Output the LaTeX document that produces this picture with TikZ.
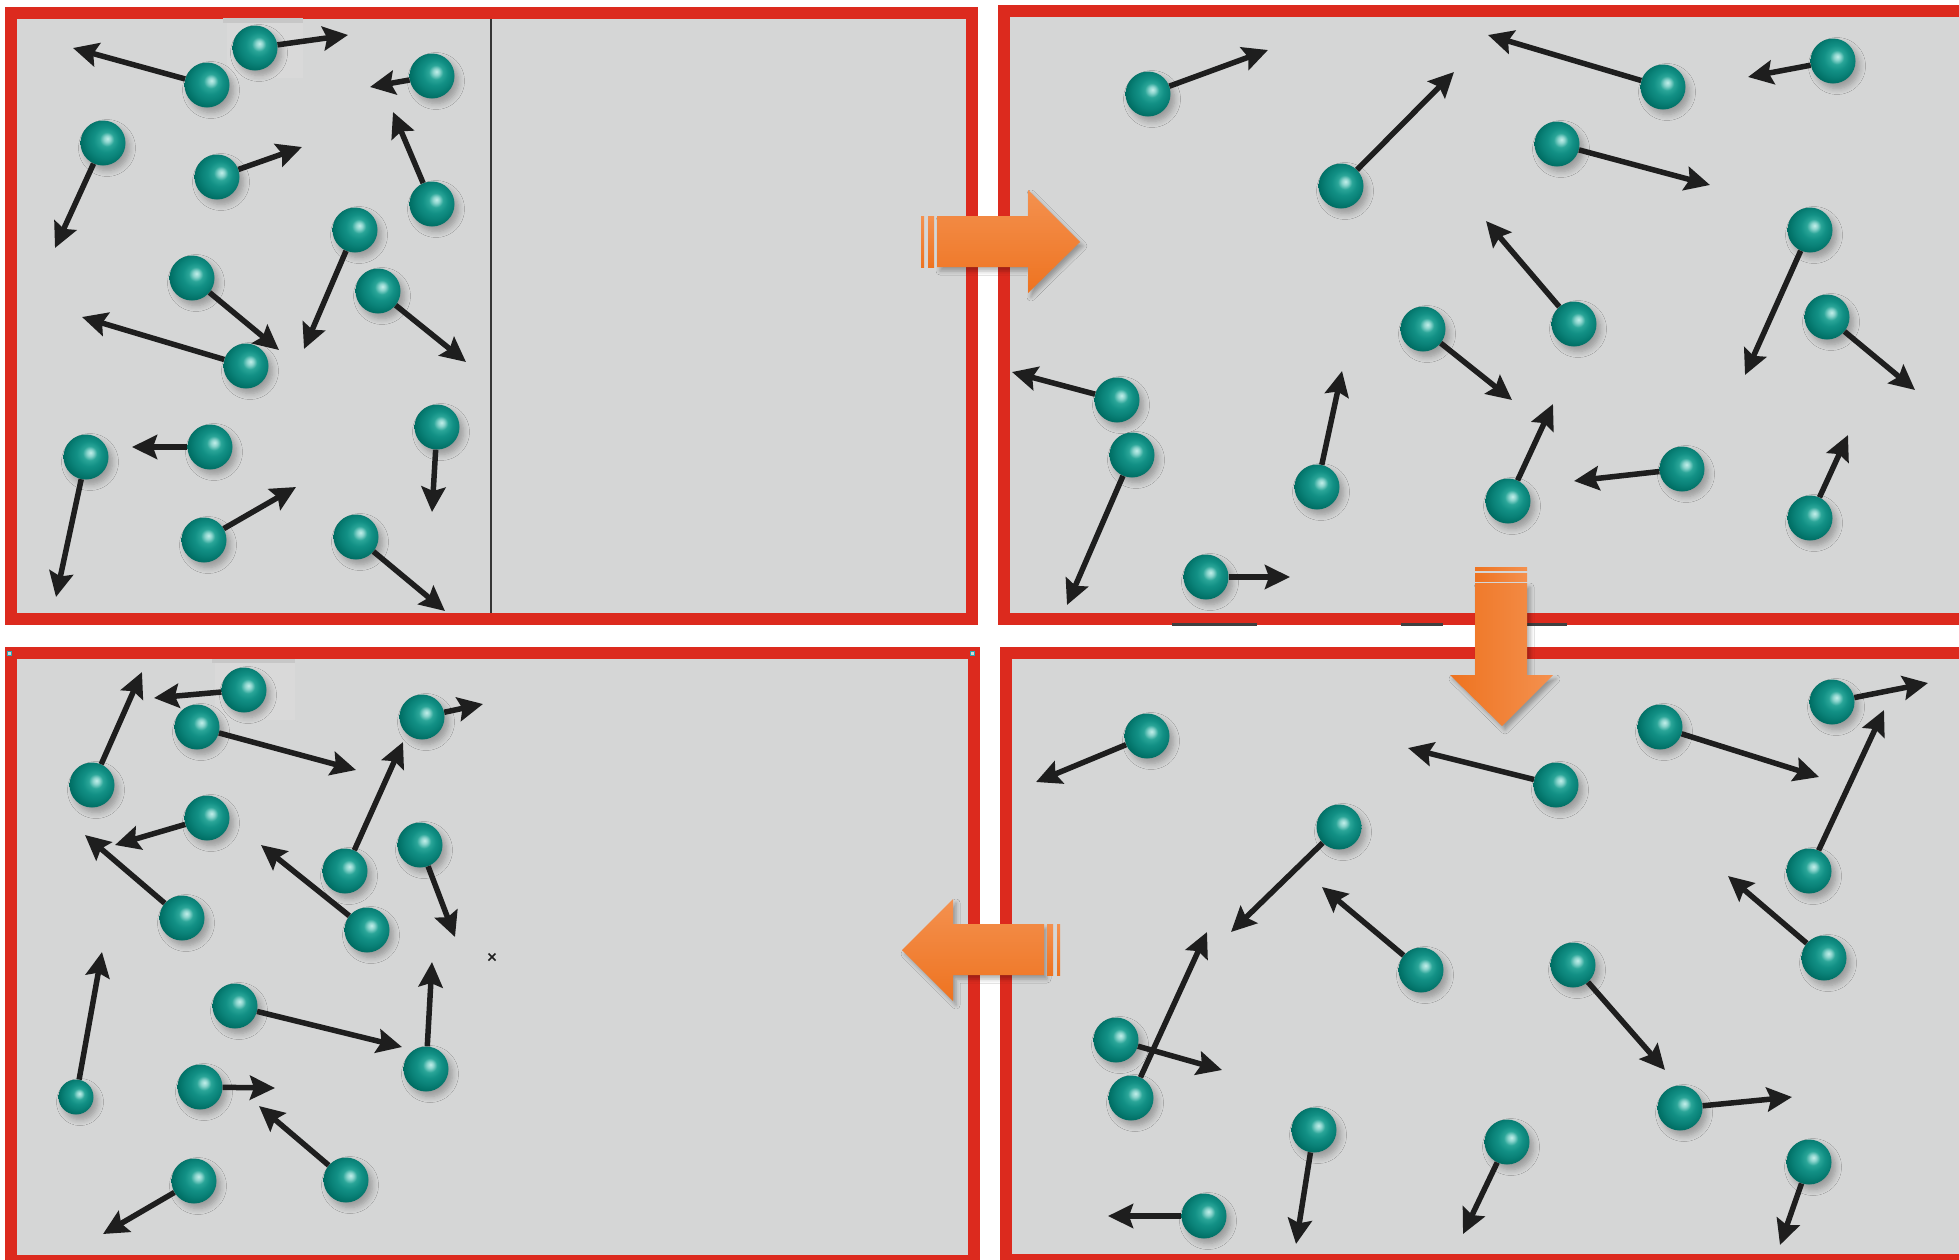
\documentclass[tikz,border=0pt]{standalone}
\usetikzlibrary{arrows.meta,shadows.blur}

\definecolor{panelgrey}{HTML}{D5D6D6}
\definecolor{framered}{HTML}{DC2A1E}
\definecolor{arrowink}{HTML}{1E1E1E}
\definecolor{orangelight}{HTML}{F4914F}
\definecolor{orangedark}{HTML}{EE7320}
\definecolor{handlecyan}{HTML}{2AA8B8}
\definecolor{ballA}{HTML}{C2EFEA}
\definecolor{ballB}{HTML}{8FD6CF}
\definecolor{ballC}{HTML}{2AA598}
\definecolor{ballD}{HTML}{129085}
\definecolor{ballE}{HTML}{0A8278}
\definecolor{ballF}{HTML}{006E64}
\definecolor{ballG}{HTML}{005F56}
\definecolor{ballH}{HTML}{005048}

% glossy teal sphere, highlight slightly up and to the right
\pgfdeclareradialshading{tealball}{\pgfpoint{5bp}{5bp}}{%
  color(0bp)=(ballA); color(3.5bp)=(ballB); color(8bp)=(ballC);
  color(14bp)=(ballD); color(20bp)=(ballE); color(27bp)=(ballF);
  color(34bp)=(ballG); color(50bp)=(ballH)}

\begin{document}
\begin{tikzpicture}[x=1pt,y=-1pt,
  ball/.style={circle, inner sep=0pt, minimum size=45pt, shading=tealball,
    blur shadow={shadow xshift=4pt, shadow yshift=-5pt, shadow blur radius=6pt,
      shadow opacity=28, shadow blur steps=6}},
  smallball/.style={ball, minimum size=35pt},
  vel/.style={draw=arrowink, line width=5.5pt,
    -{Stealth[length=25pt,width=24pt,inset=4pt]}},
  panel/.style={fill=panelgrey, draw=framered, line width=12pt},
  bigarrow/.style={blur shadow={shadow xshift=3pt, shadow yshift=-4pt,
      shadow blur radius=4pt, shadow opacity=30}},
  hstripe/.style={top color=orangelight, bottom color=orangedark},
  vstripe/.style={left color=orangedark, right color=orangelight},
  handle/.style={draw=handlecyan, line width=1pt, fill=panelgrey}
]
\useasboundingbox (0,0) rectangle (1959,1259);
\clip (0,0) rectangle (1959,1259);
\fill[white] (0,0) rectangle (1959,1259);

% ---- the four frames ----
\path[panel] (11,13) rectangle (972,619);
\path[panel] (1004,11) rectangle (1975,619);
\path[panel] (11,653) rectangle (974,1261);
\path[panel] (1006,653) rectangle (1975,1260);

% partition in the first box
\draw[line width=2.5pt, color=arrowink!90] (491,19) -- (491,613);

% pasting seams
\fill[black!22] (223,18) rectangle (303,23);
\fill[black!15] (227,23) rectangle (303,78);
\fill[black!22] (212,659) rectangle (295,663);
\fill[black!15] (215,663) rectangle (295,720);
\fill[black!75] (1172,623) rectangle (1257,626);
\fill[black!75] (1401,623) rectangle (1443,626);
\fill[black!75] (1527,623) rectangle (1567,626);

% ---- box 1: gas confined to the left part ----
\foreach \i/\bx/\by/\tx/\ty in {
  1/207/85/73/48, 2/255/48/348/35, 3/432/76/370/87, 4/103/143/55/248,
  5/217/177/302/147, 6/432/204/393/112, 7/355/230/304/349, 8/378/291/466/362,
  9/192/278/279/350, 10/246/366/82/317, 11/210/447/132/447, 12/86/457/56/597,
  13/437/427/432/512, 14/204/540/296/487, 15/356/537/445/611} {
  \node[ball] (pa\i) at (\bx,\by) {};
  \coordinate (ta\i) at (\tx,\ty);
  \draw[vel] (pa\i) -- (ta\i);
}

% ---- box 2: gas filling the whole box ----
\foreach \i/\bx/\by/\tx/\ty in {
  1/1148/94/1268/50, 2/1663/87/1488/35, 3/1833/61/1748/77, 4/1341/186/1454/72,
  5/1557/144/1710/185, 6/1810/230/1745/375, 7/1574/324/1486/221,
  8/1423/329/1512/400, 9/1827/317/1915/390, 10/1117/400/1012/372,
  11/1132/455/1067/605, 12/1317/487/1342/371, 13/1508/501/1553/404,
  14/1682/469/1574/481, 15/1810/518/1848/435, 16/1206/577/1290/577} {
  \node[ball] (pb\i) at (\bx,\by) {};
  \coordinate (tb\i) at (\tx,\ty);
  \draw[vel] (pb\i) -- (tb\i);
}

% ---- box 4: gas still spread out ----
\foreach \i/\bx/\by/\tx/\ty in {
  1/1147/736/1036/782, 2/1556/785/1408/748, 3/1660/727/1819/777,
  4/1832/702/1928/683, 5/1809/871/1884/710, 6/1339/827/1231/932,
  7/1421/970/1322/887, 8/1824/958/1728/876, 9/1573/965/1665/1070,
  10/1116/1040/1222/1070, 11/1131/1098/1207/932, 12/1680/1108/1792/1097,
  13/1314/1130/1296/1244, 14/1507/1142/1463/1234, 15/1809/1162/1780/1245,
  16/1204/1216/1108/1216} {
  \node[ball] (pd\i) at (\bx,\by) {};
  \coordinate (td\i) at (\tx,\ty);
  \draw[vel] (pd\i) -- (td\i);
}

% ---- box 3: gas back in the left part ----
\foreach \i/\bx/\by/\tx/\ty in {
  1/92/785/142/672, 2/244/690/154/698, 3/197/727/356/770, 4/422/717/483/704,
  5/207/818/115/845, 6/182/918/85/835, 7/345/871/403/742, 8/367/930/261/845,
  9/420/845/455/937, 11/235/1006/402/1047, 12/426/1069/432/962,
  13/200/1087/275/1088, 14/194/1181/103/1234, 15/346/1180/259/1106} {
  \node[ball] (pc\i) at (\bx,\by) {};
  \coordinate (tc\i) at (\tx,\ty);
  \draw[vel] (pc\i) -- (tc\i);
}
\node[smallball] (pc10) at (76,1097) {};
\coordinate (tc10) at (102,952);
\draw[vel] (pc10) -- (tc10);

% small cross mark and selection handles
\draw[line width=1.6pt, arrowink] (488.5,953.5) -- (495.5,960.5) (495.5,953.5) -- (488.5,960.5);
\path[handle] (7,651) rectangle (11,655);
\path[handle] (970,651) rectangle (974,655);

% ---- orange step arrows ----
% right
\path[bigarrow, hstripe] (937,216) -- (1028,216) -- (1028,190) -- (1080,242)
  -- (1028,293) -- (1028,267) -- (937,267) -- cycle;
\path[hstripe] (921,216) rectangle (924,267);
\path[hstripe] (928,216) rectangle (934,267);
% down
\path[bigarrow, vstripe] (1475,583) -- (1475,675) -- (1450,675) -- (1502,726)
  -- (1553,675) -- (1527,675) -- (1527,583) -- cycle;
\path[vstripe] (1475,567) rectangle (1527,570);
\path[vstripe] (1475,573) rectangle (1527,581);
% left
\path[bigarrow, hstripe] (1044,924) -- (953,924) -- (953,899) -- (902,950)
  -- (953,1001) -- (953,975) -- (1044,975) -- cycle;
\path[hstripe] (1047,924) rectangle (1053,975);
\path[hstripe] (1057,924) rectangle (1060,975);
\end{tikzpicture}
\end{document}
